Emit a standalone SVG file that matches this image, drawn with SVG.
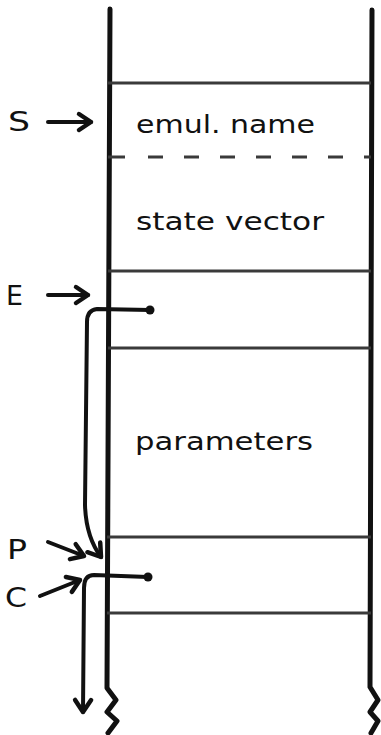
<svg xmlns="http://www.w3.org/2000/svg" width="381" height="735" viewBox="0 0 381 735">
  <style>
    .wall { stroke: #111; stroke-width: 5; fill: none; stroke-linecap: round; stroke-linejoin: round; }
    .div { stroke: #3a3a3a; stroke-width: 3; fill: none; }
    .dash { stroke: #3a3a3a; stroke-width: 3; fill: none; stroke-dasharray: 15 21; }
    .ptr { stroke: #111; stroke-width: 4; fill: none; stroke-linecap: round; stroke-linejoin: round; }
    .lbl { font-family: "DejaVu Sans", "Liberation Sans", sans-serif; font-size: 24px; fill: #111; }
    .cap { font-family: "DejaVu Sans", "Liberation Sans", sans-serif; font-size: 26px; fill: #111; }
  </style>
  <defs>
    <marker id="arr" markerUnits="userSpaceOnUse" markerWidth="24" markerHeight="24" viewBox="-16 -12 18 24" refX="0" refY="0" orient="auto">
      <path d="M-12,-8 L0,0 L-12,8" fill="none" stroke="#111" stroke-width="4.5" stroke-linecap="round" stroke-linejoin="round"/>
    </marker>
  </defs>
  <rect width="381" height="735" fill="#fff"/>

  <g id="frame">
    <path class="wall" d="M110,9 L107,688 L116,700 L107,712 L117,721 L108,733"/>
    <path class="wall" d="M372,10 L370,687 L378,700 L370,712 L378,721 L371,733"/>
  </g>

  <g id="cell-emul-name">
    <line class="div" x1="108" y1="83" x2="371" y2="83"/>
    <text class="lbl" x="136" y="133" textLength="179" lengthAdjust="spacingAndGlyphs">emul. name</text>
  </g>
  <g id="cell-state-vector">
    <line class="div" x1="108" y1="157" x2="125" y2="157"/>
    <line class="dash" x1="148" y1="157" x2="371" y2="157"/>
    <text class="lbl" x="136" y="230" textLength="188" lengthAdjust="spacingAndGlyphs">state vector</text>
  </g>
  <g id="cell-e">
    <line class="div" x1="108" y1="271" x2="371" y2="271"/>
  </g>
  <g id="cell-parameters">
    <line class="div" x1="108" y1="348" x2="371" y2="348"/>
    <text class="lbl" x="135" y="450" textLength="178" lengthAdjust="spacingAndGlyphs">parameters</text>
  </g>
  <g id="cell-p">
    <line class="div" x1="107" y1="537" x2="371" y2="537"/>
  </g>
  <g id="cell-c">
    <line class="div" x1="107" y1="613" x2="371" y2="613"/>
  </g>

  <g id="label-S"><text class="cap" x="8" y="131" textLength="22" lengthAdjust="spacingAndGlyphs">S</text></g>
  <g id="label-E"><text class="cap" x="6" y="305" textLength="17" lengthAdjust="spacingAndGlyphs">E</text></g>
  <g id="label-P"><text class="cap" x="7" y="559" textLength="20" lengthAdjust="spacingAndGlyphs">P</text></g>
  <g id="label-C"><text class="cap" x="5" y="607" textLength="22" lengthAdjust="spacingAndGlyphs">C</text></g>

  <g id="connectors">
    <path class="ptr" d="M48,122 L91,122" marker-end="url(#arr)"/>
    <path class="ptr" d="M48,295 L88,295" marker-end="url(#arr)"/>
    <path class="ptr" d="M48,542 L84,556" marker-end="url(#arr)"/>
    <path class="ptr" d="M40,596 L80,580" marker-end="url(#arr)"/>
    <path class="ptr" d="M150,310 L97,309 Q87,310 87,322 L85,505 Q86,537 101,557" marker-end="url(#arr)"/>
    <circle cx="150" cy="310" r="4.5" fill="#111"/>
    <path class="ptr" d="M148,577 L94,575 Q84,575 84,588 L83,712" marker-end="url(#arr)"/>
    <circle cx="148" cy="577" r="4.5" fill="#111"/>
  </g>
</svg>
